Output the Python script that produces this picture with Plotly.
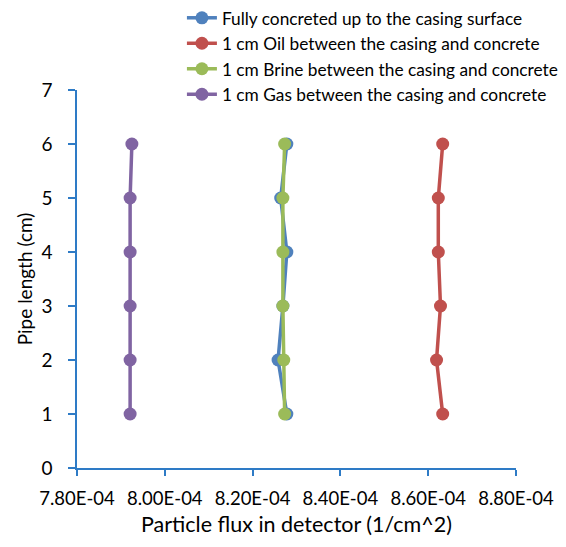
import plotly.graph_objects as go

pipe_length = [1, 2, 3, 4, 5, 6]
fully_concreted = [8.278e-4, 8.258e-4, 8.269e-4, 8.278e-4, 8.264e-4, 8.278e-4]
oil_gap = [8.633e-4, 8.619e-4, 8.628e-4, 8.623e-4, 8.623e-4, 8.633e-4]
brine_gap = [8.273e-4, 8.271e-4, 8.269e-4, 8.269e-4, 8.269e-4, 8.273e-4]
gas_gap = [7.921e-4, 7.921e-4, 7.921e-4, 7.921e-4, 7.921e-4, 7.925e-4]

series_names = [
    "Fully concreted up to the casing surface",
    "1 cm Oil between the casing and concrete",
    "1 cm Brine between the casing and concrete",
    "1 cm Gas between the casing and concrete",
]
series_values = [fully_concreted, oil_gap, brine_gap, gas_gap]
colors = ["#4F81BD", "#C0504D", "#9BBB59", "#8064A2"]

x_ticks = [7.8e-4, 8.0e-4, 8.2e-4, 8.4e-4, 8.6e-4, 8.8e-4]
x_tick_labels = ["7.80E-04", "8.00E-04", "8.20E-04", "8.40E-04", "8.60E-04", "8.80E-04"]
y_ticks = [0, 1, 2, 3, 4, 5, 6, 7]
x_title = "Particle flux in detector (1/cm^2)"
y_title = "Pipe length (cm)"

fig = go.Figure()
for name, vals, c in zip(series_names, series_values, colors):
    fig.add_trace(go.Scatter(
        x=vals, y=pipe_length, name=name, mode="lines+markers",
        line=dict(color=c, width=3.5),
        marker=dict(color=c, size=13),
    ))

font_family = "Lato, Open Sans, sans-serif"
fig.update_layout(
    width=550, height=531,
    margin=dict(l=69, r=42, t=82, b=71, autoexpand=False),
    paper_bgcolor="white", plot_bgcolor="white",
    font=dict(family=font_family, color="black"),
    showlegend=True,
    legend=dict(
        x=0.239, y=1.238, xref="paper", yref="paper",
        xanchor="left", yanchor="top",
        font=dict(size=17.3, family=font_family),
        tracegroupgap=0, itemwidth=30,
        bgcolor="rgba(0,0,0,0)",
    ),
    xaxis=dict(
        range=[7.8e-4, 8.8e-4], tickvals=x_ticks, ticktext=x_tick_labels,
        showgrid=False, zeroline=False, showline=True, automargin=False,
        linecolor="#2E7BC6", linewidth=1.5,
        ticks="outside", ticklen=6, tickcolor="#2E7BC6", tickwidth=1.5,
        ticklabelstandoff=7,
        tickfont=dict(size=18.5),
    ),
    yaxis=dict(
        range=[0, 7], tickvals=y_ticks,
        showgrid=False, zeroline=False, showline=True, automargin=False,
        linecolor="#2E7BC6", linewidth=1.5,
        ticks="outside", ticklen=7, tickcolor="#2E7BC6", tickwidth=1.5,
        ticklabelstandoff=12,
        tickfont=dict(size=19),
        title=dict(text=y_title, font=dict(size=19), standoff=4),
    ),
    annotations=[dict(
        text=x_title, xref="paper", yref="paper", x=0.5, y=-0.149,
        xanchor="center", yanchor="middle", showarrow=False,
        font=dict(size=21.5, family=font_family, color="black"),
    )],
)

fig.write_html("out.html")
